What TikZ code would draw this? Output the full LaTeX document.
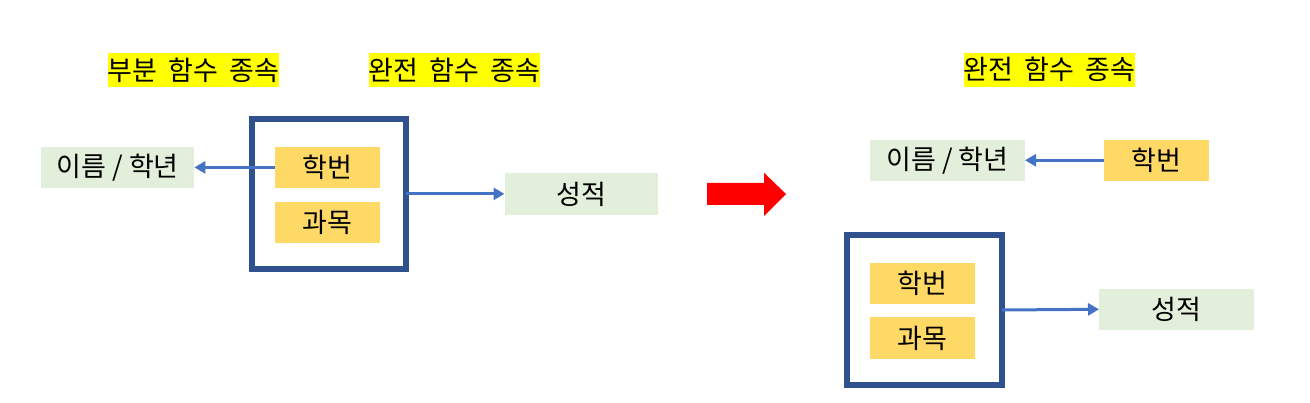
\documentclass[tikz,border=0pt]{standalone}
\usepackage{fontspec}
\setmainfont{Noto Sans CJK KR}
\usetikzlibrary{arrows.meta}
\definecolor{grn}{HTML}{E2EFDA}
\definecolor{org}{HTML}{FFD966}
\definecolor{bx}{HTML}{2F528F}
\definecolor{arr}{HTML}{4472C4}
\definecolor{ylw}{HTML}{FFFF00}
\newcommand\mylblfont{\fontsize{27}{29}\selectfont\spaceskip 11pt\relax}
\tikzset{
  base/.style={inner sep=0pt, outer sep=0pt, font=\fontsize{27}{29}\selectfont},
  lbl/.style={base, fill=ylw, minimum width=171pt, minimum height=34pt, font=\mylblfont},
  gbox/.style={base, fill=grn, minimum height=40.7pt},
  obox/.style={base, fill=org, minimum width=105pt, minimum height=40.7pt},
  frame/.style={draw=bx, line width=6pt, inner sep=0pt, outer sep=0pt},
  conn/.style={draw=arr, line width=3pt, -{Triangle[length=11pt,width=12pt]}}
}
\begin{document}
\begin{tikzpicture}[x=1pt,y=-1pt]
\useasboundingbox (0,0) rectangle (1310,403);
% left panel
\node[lbl] (lbl1) at (193.5,70) {부분 함수 종속};
\node[lbl] (lbl2) at (454.5,70) {완전 함수 종속};
\node[frame, minimum width=154.4pt, minimum height=149.7pt] (box1) at (329.2,193.9) {};
\node[gbox, minimum width=153.4pt] (name1) at (117.7,167.4) {이름 / 학년};
\node[obox] (hb1) at (327.3,167.4) {학번};
\node[obox] (gm1) at (327.3,222.4) {과목};
\node[gbox, minimum width=153.8pt, minimum height=41.7pt] (sj1) at (581.4,193.9) {성적};
\draw[conn] (hb1.west) -- (name1.east);
\draw[conn] (box1.east) -- (sj1.west);
% red arrow
\fill[red] (707,183) -- (764,183) -- (764,172.7) -- (786,194) -- (764,216) -- (764,205) -- (707,205) -- cycle;
% right panel
\node[lbl] (lbl3) at (1049.5,69.7) {완전 함수 종속};
\node[gbox, minimum width=155pt] (name2) at (947.5,160.3) {이름 / 학년};
\node[obox] (hb2) at (1156.5,160.3) {학번};
\draw[conn] (hb2.west) -- (name2.east);
\node[frame, minimum width=155pt, minimum height=149.4pt] (box2) at (924.5,310) {};
\node[obox, minimum height=41pt] (hb3) at (922.5,283.5) {학번};
\node[obox, minimum height=42pt] (gm3) at (922.5,338) {과목};
\node[gbox, minimum width=155pt] (sj3) at (1176.5,309.3) {성적};
\draw[conn] (box2.east) -- (sj3.west);
\end{tikzpicture}
\end{document}
